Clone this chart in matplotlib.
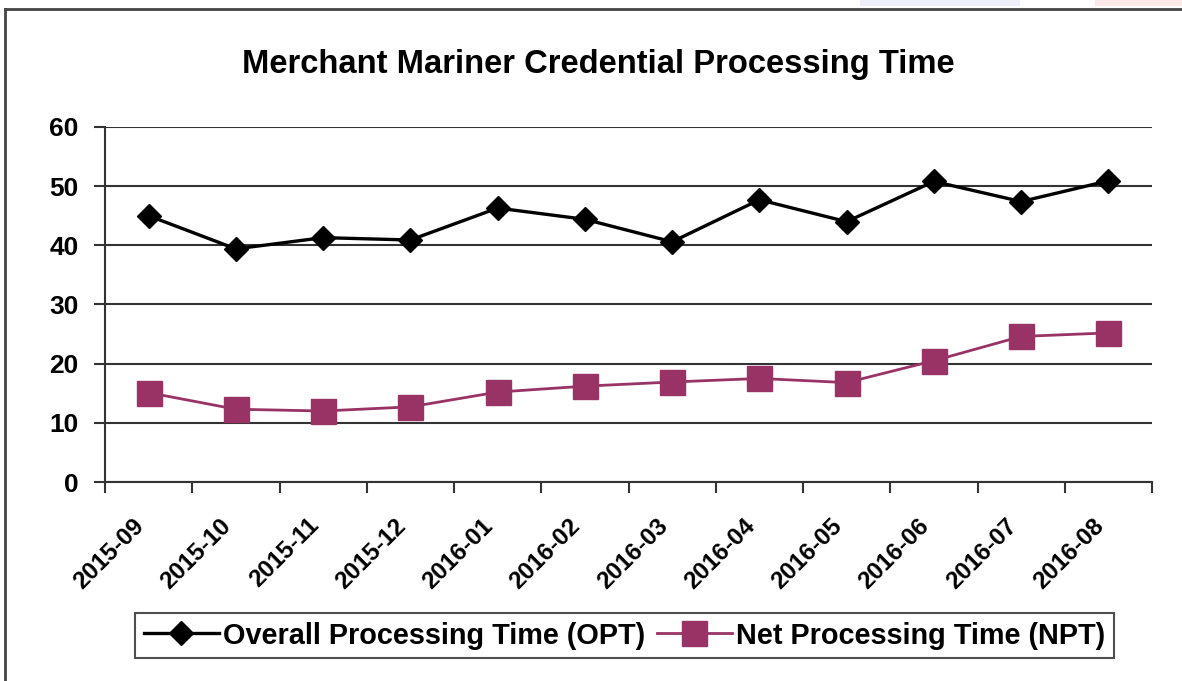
import numpy as np
import matplotlib
matplotlib.use('Agg')
import matplotlib.pyplot as plt
from matplotlib.lines import Line2D
from matplotlib.patches import Rectangle

# data
months = ['2015-09', '2015-10', '2015-11', '2015-12', '2016-01', '2016-02',
          '2016-03', '2016-04', '2016-05', '2016-06', '2016-07', '2016-08']
opt = [45.0, 39.4, 41.3, 40.9, 46.3, 44.4, 40.6, 47.7, 44.0, 50.8, 47.4, 50.9]
npt = [15.1, 12.3, 12.0, 12.7, 15.2, 16.2, 16.9, 17.5, 16.8, 20.5, 24.6, 25.2]
yticks = [0, 10, 20, 30, 40, 50, 60]

plt.rcParams['font.family'] = ['Liberation Sans', 'DejaVu Sans']
plt.rcParams['font.weight'] = 'bold'

fig = plt.figure(figsize=(11.82, 6.81), dpi=100)
ax = fig.add_axes([105/1182, 1-482/681, (1152-105)/1182, (482-127)/681])

x = np.arange(len(months))
ax.plot(x, opt, color='black', lw=2.4, marker='D', ms=12.5, mec='black',
        label='Overall Processing Time (OPT)')
ax.plot(x, npt, color='#993366', lw=2.0, marker='s', ms=18, mec='#993366',
        label='Net Processing Time (NPT)')

ax.set_xlim(-0.5, len(months) - 0.5)
ax.set_ylim(0, 60)
ax.set_yticks(yticks)
ax.set_yticklabels([str(v) for v in yticks], fontsize=19, fontweight='bold')
ax.yaxis.grid(True, color='#333333', lw=1.5)
ax.set_axisbelow(True)

# ticks between categories, labels at centres
ax.set_xticks(np.arange(-0.5, len(months), 1.0))
ax.set_xticklabels([])
ax.set_xticks(x, minor=True)
ax.set_xticklabels(months, minor=True, rotation=45, ha='right',
                   fontsize=17.5, fontweight='bold')
ax.tick_params(axis='x', which='minor', length=0, pad=23)
ax.tick_params(axis='x', which='major', length=8, width=1.5, color='#333333')
ax.tick_params(axis='y', length=8, width=1.5, color='#333333', pad=11)

for s in ['top', 'right']:
    ax.spines[s].set_visible(False)
for s in ['left', 'bottom']:
    ax.spines[s].set_color('#333333')
    ax.spines[s].set_linewidth(1.5)

fig.text(0.506, 1-65/681, 'Merchant Mariner Credential Processing Time',
         ha='center', va='center', fontsize=23.6, fontweight='bold')

leg = fig.legend(loc='center', bbox_to_anchor=(624.5/1182, 1-635.5/681), ncol=2,
                 fontsize=20.8, frameon=True, fancybox=False, handlelength=2.6,
                 handletextpad=0.15, columnspacing=0.4, borderpad=0.3)
leg.get_frame().set_edgecolor('#222222')
leg.get_frame().set_linewidth(1.5)

# outer frame (only top and left visible in the crop)
fig.add_artist(Line2D([5/1182, 1.0], [1-9/681, 1-9/681], color='#444444',
                      lw=2, transform=fig.transFigure))
fig.add_artist(Line2D([5/1182, 5/1182], [0, 1-9/681], color='#444444',
                      lw=2, transform=fig.transFigure))
fig.add_artist(Rectangle((860/1182, 1-6/681), 160/1182, 6/681, color='#eceef8',
                         transform=fig.transFigure, lw=0))
fig.add_artist(Rectangle((1095/1182, 1-6/681), 87/1182, 6/681, color='#fbe6e8',
                         transform=fig.transFigure, lw=0))

fig.savefig('out.png', dpi=100)
